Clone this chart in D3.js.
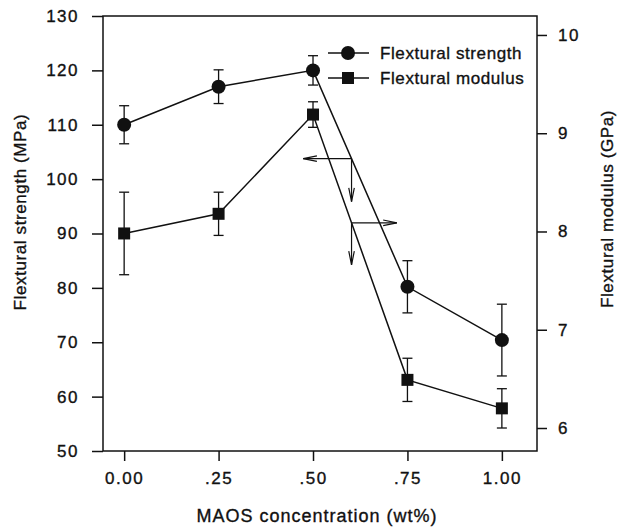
<!DOCTYPE html>
<html>
<head>
<meta charset="utf-8">
<script src="https://cdn.jsdelivr.net/npm/d3@7"></script>
<style>
  body { margin: 0; background: #fff; }
  text { font-family: "Liberation Sans", Arial, sans-serif; fill: #111; stroke: #111; stroke-width: 0.35px; }
</style>
</head>
<body>
<div id="chart"></div>
<script>
var conc = [0, 0.25, 0.5, 0.75, 1.0];
var strength = [110, 117, 120, 80.2, 70.4];
var strengthErr = [3.5, 3.1, 2.7, 4.8, 6.6];
var modulus = [7.98, 8.18, 9.19, 6.49, 6.20];
var modulusErr = [0.42, 0.22, 0.13, 0.22, 0.20];
var xTicks = [0, 0.25, 0.5, 0.75, 1.0];
var xTickLabels = ["0.00", ".25", ".50", ".75", "1.00"];
var leftTicks = [50, 60, 70, 80, 90, 100, 110, 120, 130];
var rightTicks = [6, 7, 8, 9, 10];
// arrow annotations: x position on the lines, horizontal tip x for each arrow
var arrowX = 0.602;
var arrowTips = [0.474, 0.722];

var w = 619, h = 531;
var svg = d3.select("#chart").append("svg").attr("width", w).attr("height", h);

var x = d3.scaleLinear().domain([-0.056, 1.093]).range([103, 537]);
var yL = d3.scaleLinear().domain([50, 130]).range([451, 16]);
var yR = d3.scaleLinear().domain([5.766, 10.193]).range([451, 16]);

var ink = "#111";

// frame
svg.append("rect")
  .attr("x", x.range()[0]).attr("y", yL.range()[1])
  .attr("width", x.range()[1] - x.range()[0])
  .attr("height", yL.range()[0] - yL.range()[1])
  .attr("fill", "none").attr("stroke", ink).attr("stroke-width", 1.5);

// axes
var gL = svg.append("g").attr("transform", "translate(" + x.range()[0] + ",0)")
  .call(d3.axisLeft(yL).tickValues(leftTicks).tickSize(11).tickSizeOuter(0).tickPadding(13));
var gR = svg.append("g").attr("transform", "translate(" + x.range()[1] + ",0)")
  .call(d3.axisRight(yR).tickValues(rightTicks).tickSize(10).tickSizeOuter(0).tickPadding(11)
    .tickFormat(d3.format("d")));
var gB = svg.append("g").attr("transform", "translate(0," + yL.range()[0] + ")")
  .call(d3.axisBottom(x).tickValues(xTicks).tickSize(10).tickSizeOuter(0).tickPadding(11)
    .tickFormat(function(d, i) { return xTickLabels[i]; }));

[gL, gR, gB].forEach(function(g) {
  g.select(".domain").remove();
  g.selectAll("line").attr("stroke", ink).attr("stroke-width", 1.5);
  g.selectAll("text").attr("font-size", "17px").attr("fill", ink)
    .style("letter-spacing", "1.5px")
    .style("font-family", "'Liberation Sans', Arial, sans-serif");
});

// axis titles
svg.append("text")
  .attr("transform", "translate(26,212) rotate(-90)")
  .attr("text-anchor", "middle").attr("font-size", "17px").style("letter-spacing", "0.6px")
  .text("Flextural strength (MPa)");
svg.append("text")
  .attr("transform", "translate(613,209) rotate(-90)")
  .attr("text-anchor", "middle").attr("font-size", "17px").style("letter-spacing", "0.6px")
  .text("Flextural modulus (GPa)");
svg.append("text")
  .attr("x", 317).attr("y", 522)
  .attr("text-anchor", "middle").attr("font-size", "18px").style("letter-spacing", "1px")
  .text("MAOS concentration (wt%)");

function drawSeries(vals, errs, y, shape) {
  var line = d3.line().x(function(d, i) { return x(conc[i]); }).y(function(d) { return y(d); });
  svg.append("path").datum(vals).attr("d", line)
    .attr("fill", "none").attr("stroke", ink).attr("stroke-width", 1.5);

  var eb = svg.append("g");
  vals.forEach(function(v, i) {
    var cx = x(conc[i]), top = y(v + errs[i]), bot = y(v - errs[i]);
    eb.append("line").attr("x1", cx).attr("x2", cx).attr("y1", top).attr("y2", bot);
    eb.append("line").attr("x1", cx - 5).attr("x2", cx + 5).attr("y1", top).attr("y2", top);
    eb.append("line").attr("x1", cx - 5).attr("x2", cx + 5).attr("y1", bot).attr("y2", bot);
  });
  eb.selectAll("line").attr("stroke", ink).attr("stroke-width", 1.3);

  if (shape === "circle") {
    svg.selectAll(".pc").data(vals).enter().append("circle").attr("class", "pc")
      .attr("cx", function(d, i) { return x(conc[i]); }).attr("cy", function(d) { return y(d); })
      .attr("r", 7).attr("fill", ink);
  } else {
    svg.selectAll(".ps").data(vals).enter().append("rect").attr("class", "ps")
      .attr("x", function(d, i) { return x(conc[i]) - 6; }).attr("y", function(d) { return y(d) - 6; })
      .attr("width", 12).attr("height", 12).attr("fill", ink);
  }
}

drawSeries(strength, strengthErr, yL, "circle");
drawSeries(modulus, modulusErr, yR, "square");

// annotation arrows, anchored on the lines
function onLine(vals, y, xv) {
  var i = d3.bisectRight(conc, xv) - 1;
  var t = (x(xv) - x(conc[i])) / (x(conc[i + 1]) - x(conc[i]));
  return y(vals[i]) + t * (y(vals[i + 1]) - y(vals[i]));
}
function arrow(x1, y1, x2, y2) {
  svg.append("line").attr("x1", x1).attr("y1", y1).attr("x2", x2).attr("y2", y2)
    .attr("stroke", ink).attr("stroke-width", 1.2);
  var ang = Math.atan2(y2 - y1, x2 - x1), L = 14, s = 0.2;
  var p = [[x2 - L * Math.cos(ang - s), y2 - L * Math.sin(ang - s)], [x2, y2],
           [x2 - L * Math.cos(ang + s), y2 - L * Math.sin(ang + s)]];
  svg.append("path").attr("d", d3.line()(p)).attr("fill", "none")
    .attr("stroke", ink).attr("stroke-width", 1.2);
}
var sx = x(arrowX), sy = onLine(strength, yL, arrowX);
arrow(sx, sy, x(arrowTips[0]), sy);
arrow(sx, sy, sx, sy + 43);
var my = onLine(modulus, yR, arrowX);
arrow(sx, my, x(arrowTips[1]), my);
arrow(sx, my, sx, my + 42);

// legend
var lg = svg.append("g");
[["Flextural strength", "circle", 53], ["Flextural modulus", "square", 78]].forEach(function(d) {
  lg.append("line").attr("x1", 328).attr("x2", 369).attr("y1", d[2]).attr("y2", d[2])
    .attr("stroke", ink).attr("stroke-width", 1.5);
  if (d[1] === "circle") lg.append("circle").attr("cx", 348).attr("cy", d[2]).attr("r", 7).attr("fill", ink);
  else lg.append("rect").attr("x", 342).attr("y", d[2] - 6).attr("width", 12).attr("height", 12).attr("fill", ink);
  lg.append("text").attr("x", 380).attr("y", d[2] + 6).attr("font-size", "17px")
    .style("letter-spacing", "0.6px").text(d[0]);
});
</script>
</body>
</html>
